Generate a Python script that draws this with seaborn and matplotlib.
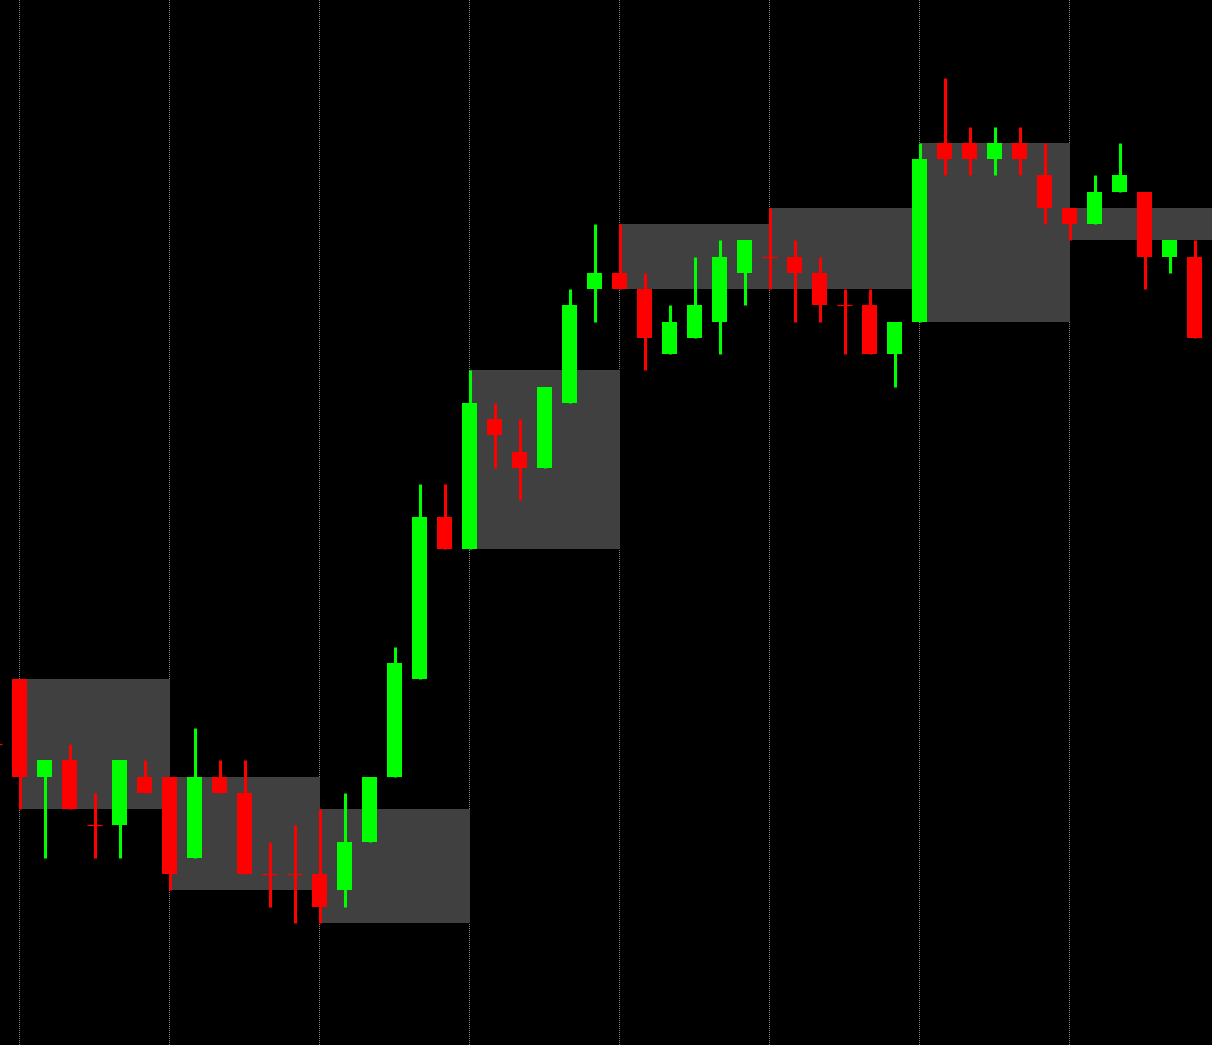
import pandas as pd
import seaborn as sns
import matplotlib.pyplot as plt

# candles in price-step units, one per slot; slot -1 is the one cut off at the left edge
slots = list(range(-1, 48))
opens = [11, 15, 9, 10, 6, 6, 9, 9, 4, 9, 8, 3, 3, 3, 2, 5, 9, 15, 25, 23, 31, 29, 28, 32, 39,
         40, 39, 35, 36, 37, 40, 41, 41, 40, 38, 38, 35, 37, 48, 48, 47, 48, 46, 44, 43, 45, 45, 41, 41]
highs = [12, 15, 10, 11, 8, 10, 10, 9, 12, 10, 10, 5, 6, 7, 8, 9, 17, 27, 27, 34, 32, 31, 33, 39, 43,
         43, 40, 38, 41, 42, 42, 44, 42, 41, 39, 39, 37, 48, 52, 49, 49, 49, 48, 44, 46, 48, 45, 42, 42]
lows = [10, 7, 4, 7, 4, 4, 8, 2, 4, 8, 3, 1, 0, 0, 1, 5, 9, 15, 23, 23, 28, 26, 28, 32, 37,
        39, 34, 35, 36, 35, 38, 39, 37, 37, 35, 35, 33, 37, 46, 46, 46, 46, 43, 42, 43, 45, 39, 40, 36]
closes = [11, 9, 10, 7, 6, 10, 8, 3, 9, 8, 3, 3, 3, 1, 5, 9, 16, 25, 23, 32, 30, 28, 33, 38, 40,
          39, 36, 37, 38, 41, 42, 41, 40, 38, 38, 35, 37, 47, 47, 47, 48, 47, 44, 43, 45, 46, 41, 42, 36]

period = 6  # candles per shaded block

df = pd.DataFrame({"x": slots, "open": opens, "high": highs, "low": lows, "close": closes})
df["color"] = ["#00ff00" if c > o else "#ff0000" for o, c in zip(df["open"], df["close"])]

# each block spans the range of the first candle of its period
boxes = df[(df["x"] >= 0) & (df["x"] % period == 0)]

sns.set_theme(style="dark")
plt.rcParams["font.family"] = ["DejaVu Sans"]

fig = plt.figure(figsize=(12.12, 10.45), dpi=100, facecolor="black")
ax = fig.add_axes([0, 0, 1, 1])
ax.set_facecolor("black")

ax.bar(boxes["x"], boxes["high"] - boxes["low"], bottom=boxes["low"], width=period,
       align="edge", color="#404040", linewidth=0, zorder=1)

ax.vlines(df["x"], df["low"], df["high"], colors=df["color"], linewidth=2.2, zorder=2)

body = df[df["open"] != df["close"]]
ax.bar(body["x"], body["close"] - body["open"], bottom=body["open"], width=0.6,
       color=body["color"], linewidth=0, zorder=3)

doji = df[df["open"] == df["close"]]
ax.hlines(doji["open"], doji["x"] - 0.3, doji["x"] + 0.3, colors=doji["color"],
          linewidth=0.9, zorder=3)

ax.set_xlim(-0.78, 47.7)
ax.set_ylim(-7.51, 56.8)
ax.set_xticks(range(0, 48, period))
ax.set_yticks([])
# dotted grid, 1px on / 1px off, kept on the pixel grid
ax.grid(True, axis="x", color="#808080", linestyle=(0, (1, 1)), linewidth=0.72, snap=False)
ax.grid(False, axis="y")
ax.set_axisbelow(True)
ax.tick_params(length=0, labelbottom=False, labelleft=False)
sns.despine(ax=ax, left=True, bottom=True)

fig.savefig("out.png", dpi=100, facecolor="black")
